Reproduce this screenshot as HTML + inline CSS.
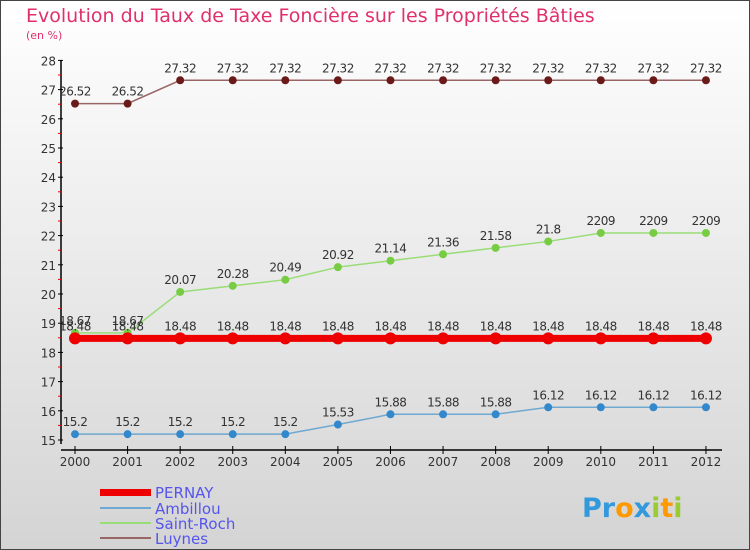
<!DOCTYPE html>
<html><head><meta charset="utf-8"><style>
body{margin:0;}
#c{width:750px;height:550px;position:relative;overflow:hidden;font-family:"DejaVu Sans","Liberation Sans",sans-serif;}
</style></head><body>
<div id="c">
<svg id="s" width="750" height="550" xmlns="http://www.w3.org/2000/svg">
<defs><linearGradient id="bg" x1="0" y1="0" x2="0" y2="1"><stop offset="0" stop-color="#ffffff"/><stop offset="1" stop-color="#d4d4d4"/></linearGradient></defs>
<rect x="0.5" y="0.5" width="749" height="549" fill="url(#bg)" stroke="#444"/>
<text x="26" y="22" font-size="19" fill="#e0306a">Evolution du Taux de Taxe Foncière sur les Propriétés Bâties</text>
<text x="26" y="39" font-size="11" fill="#e0306a">(en %)</text>
<g id="axes"></g><g id="series"></g>
<g>
<rect x="100" y="489" width="51" height="7" fill="#ee0000"/>
<text x="155" y="498" font-size="15" fill="#5555ee">PERNAY</text>
<rect x="100" y="507" width="51" height="2" fill="#6fa8d0"/>
<text x="155" y="514" font-size="15" fill="#5555ee">Ambillou</text>
<rect x="100" y="522" width="51" height="2" fill="#99dd77"/>
<text x="155" y="529" font-size="15" fill="#5555ee">Saint-Roch</text>
<rect x="100" y="537" width="51" height="2" fill="#996666"/>
<text x="155" y="544" font-size="15" fill="#5555ee">Luynes</text>
</g>
<g font-size="27" font-weight="bold">
<text x="582" y="517"><tspan fill="#3399dd">Pr</tspan><tspan fill="#ff9900">o</tspan><tspan fill="#3399dd">x</tspan><tspan fill="#99cc33">i</tspan><tspan fill="#ff9900">t</tspan><tspan fill="#99cc33">i</tspan></text>
</g>
</svg>
</div>
<script>
const years=["2000","2001","2002","2003","2004","2005","2006","2007","2008","2009","2010","2011","2012"];
const pernay=[18.48,18.48,18.48,18.48,18.48,18.48,18.48,18.48,18.48,18.48,18.48,18.48,18.48];
const ambillou=[15.2,15.2,15.2,15.2,15.2,15.53,15.88,15.88,15.88,16.12,16.12,16.12,16.12];
const saintRoch=[18.67,18.67,20.07,20.28,20.49,20.92,21.14,21.36,21.58,21.8,22.09,22.09,22.09];
const luynes=[26.52,26.52,27.32,27.32,27.32,27.32,27.32,27.32,27.32,27.32,27.32,27.32,27.32];
const saintRochLabels=["18.67","18.67","20.07","20.28","20.49","20.92","21.14","21.36","21.58","21.8","2209","2209","2209"];
const yTicks=[15,16,17,18,19,20,21,22,23,24,25,26,27,28];
const NS="http://www.w3.org/2000/svg";
const X=i=>75+i*52.58;
const Y=v=>440-(v-15)*29.2;
function mk(t,a,p){const e=document.createElementNS(NS,t);for(const k in a)e.setAttribute(k,a[k]);p.appendChild(e);return e;}
const ax=document.getElementById('axes');
let l=mk('line',{x1:61,y1:Y(28),x2:61,y2:Y(15)+4,stroke:'#000','stroke-width':1.5},ax);

yTicks.forEach(v=>{
 mk('line',{x1:58,y1:Y(v),x2:63,y2:Y(v),stroke:'#000'},ax);
 if(v<28)mk('line',{x1:58,y1:Y(v+0.5),x2:61,y2:Y(v+0.5),stroke:'#e00'},ax);
 const t=mk('text',{x:56,y:Y(v)+5,'font-size':12,fill:'#333','text-anchor':'end'},ax);t.textContent=v;
 
});
l=mk('line',{x1:61,y1:450,x2:722,y2:450,stroke:'#000','stroke-width':1.5},ax);

years.forEach((y,i)=>{
 mk('line',{x1:X(i),y1:446,x2:X(i),y2:454,stroke:'#000'},ax);
 const t=mk('text',{x:X(i),y:466,'font-size':12,fill:'#333','text-anchor':'middle'},ax);t.textContent=y;
 
});
const sg=document.getElementById('series');
function draw(name,vals,labels,color,w,r,dot){
 const g=mk('g',{},sg);
 
 mk('polyline',{points:vals.map((v,i)=>X(i)+','+Y(v)).join(' '),fill:'none',stroke:color,'stroke-width':w},g);
 vals.forEach((v,i)=>{
  const c=mk('circle',{cx:X(i),cy:Y(v),r:r,fill:dot},g);
  
  const t=mk('text',{x:X(i),y:Y(v)-8,'font-size':12,fill:'#333','text-anchor':'middle','letter-spacing':'-0.5'},g);
  t.textContent=labels?labels[i]:String(v);
  
 });
}
draw('luynes',luynes,null,'#996666',1.5,4,'#6b1a1a');
draw('saint-roch',saintRoch,saintRochLabels,'#99dd77',1.5,4,'#77cc44');
draw('ambillou',ambillou,null,'#6fa8d0',1.5,4,'#3388cc');
draw('pernay',pernay,null,'#ee0000',7,6,'#ee0000');
</script>
</body></html>
